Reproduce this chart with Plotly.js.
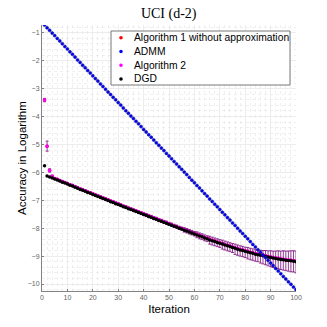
<!DOCTYPE html>
<html>
<head>
<meta charset="utf-8">
<script src="https://cdn.plot.ly/plotly-3.0.1.min.js"></script>
<style>
  html, body {margin:0; padding:0; background:white;}
  #graph {width:327px; height:327px;}
</style>
</head>
<body>
<div id="graph"></div>
<script>
// iterations 1..100
var iters = []
for (i = 1; i <= 100; i++) { iters.push(i) }

// ADMM (blue)
var admm = [-0.72,-0.82,-0.91,-1.01,-1.10,-1.20,-1.29,-1.39,-1.49,-1.58,
  -1.68,-1.77,-1.87,-1.97,-2.06,-2.16,-2.25,-2.35,-2.44,-2.54,
  -2.64,-2.73,-2.83,-2.92,-3.02,-3.12,-3.21,-3.31,-3.40,-3.50,
  -3.59,-3.69,-3.79,-3.88,-3.98,-4.07,-4.17,-4.26,-4.36,-4.46,
  -4.55,-4.65,-4.74,-4.84,-4.94,-5.03,-5.13,-5.22,-5.32,-5.41,
  -5.51,-5.61,-5.70,-5.80,-5.89,-5.99,-6.08,-6.18,-6.28,-6.37,
  -6.47,-6.56,-6.66,-6.76,-6.85,-6.95,-7.04,-7.14,-7.23,-7.33,
  -7.43,-7.52,-7.62,-7.71,-7.81,-7.90,-8.00,-8.10,-8.19,-8.29,
  -8.38,-8.48,-8.58,-8.67,-8.77,-8.86,-8.96,-9.05,-9.15,-9.25,
  -9.34,-9.44,-9.53,-9.63,-9.73,-9.82,-9.92,-10.01,-10.11,-10.20]

// DGD (black)
var dgd = [-5.76,-6.13,-6.17,-6.20,-6.24,-6.27,-6.31,-6.35,-6.38,-6.42,
  -6.46,-6.49,-6.53,-6.57,-6.61,-6.64,-6.68,-6.72,-6.75,-6.79,
  -6.83,-6.86,-6.90,-6.94,-6.97,-7.01,-7.05,-7.08,-7.12,-7.15,
  -7.19,-7.23,-7.26,-7.30,-7.33,-7.37,-7.40,-7.44,-7.47,-7.51,
  -7.54,-7.58,-7.61,-7.65,-7.68,-7.72,-7.75,-7.79,-7.82,-7.86,
  -7.89,-7.93,-7.96,-8.00,-8.03,-8.07,-8.10,-8.14,-8.17,-8.21,
  -8.24,-8.28,-8.31,-8.35,-8.38,-8.42,-8.45,-8.48,-8.51,-8.54,
  -8.57,-8.60,-8.63,-8.66,-8.69,-8.72,-8.75,-8.78,-8.80,-8.83,
  -8.85,-8.88,-8.90,-8.93,-8.95,-8.97,-8.99,-9.01,-9.03,-9.05,
  -9.07,-9.09,-9.10,-9.12,-9.13,-9.15,-9.16,-9.17,-9.18,-9.20]

// Algorithm 2 (magenta) with error bars
var alg2 = [-3.41,-5.06,-5.93,-6.14,-6.22,-6.25,-6.29,-6.33,-6.36,-6.40,
  -6.44,-6.47,-6.51,-6.55,-6.59,-6.62,-6.66,-6.70,-6.73,-6.77,
  -6.81,-6.84,-6.88,-6.92,-6.95,-6.99,-7.03,-7.06,-7.10,-7.13,
  -7.17,-7.21,-7.24,-7.28,-7.31,-7.35,-7.38,-7.42,-7.45,-7.49,
  -7.52,-7.56,-7.59,-7.63,-7.66,-7.70,-7.73,-7.77,-7.80,-7.84,
  -7.87,-7.91,-7.94,-7.98,-8.01,-8.05,-8.08,-8.12,-8.15,-8.19,
  -8.22,-8.26,-8.29,-8.33,-8.36,-8.40,-8.43,-8.46,-8.49,-8.52,
  -8.55,-8.58,-8.61,-8.64,-8.67,-8.70,-8.73,-8.76,-8.78,-8.81,
  -8.83,-8.86,-8.88,-8.91,-8.93,-8.95,-8.97,-8.99,-9.01,-9.03,
  -9.05,-9.07,-9.08,-9.10,-9.11,-9.13,-9.14,-9.15,-9.16,-9.18]

var errUp = [0.06,0.18,0.06,0.04,0.03,0.03,0.03,0.03,0.03,0.03,
  0.03,0.03,0.03,0.03,0.03,0.03,0.03,0.03,0.03,0.03,
  0.04,0.04,0.04,0.04,0.04,0.04,0.04,0.04,0.04,0.04,
  0.04,0.04,0.04,0.04,0.04,0.04,0.04,0.04,0.04,0.04,
  0.05,0.05,0.05,0.05,0.05,0.05,0.05,0.05,0.05,0.05,
  0.05,0.05,0.05,0.05,0.05,0.07,0.07,0.07,0.07,0.07,
  0.09,0.09,0.09,0.09,0.09,0.11,0.11,0.11,0.11,0.11,
  0.12,0.12,0.12,0.12,0.12,0.13,0.13,0.13,0.13,0.13,
  0.14,0.14,0.14,0.14,0.14,0.16,0.17,0.19,0.20,0.22,
  0.23,0.25,0.27,0.28,0.30,0.31,0.32,0.34,0.35,0.36]

var errDown = [0.06,0.18,0.06,0.04,0.03,0.03,0.03,0.03,0.03,0.03,
  0.03,0.03,0.03,0.03,0.03,0.03,0.03,0.03,0.03,0.03,
  0.04,0.04,0.04,0.04,0.04,0.04,0.04,0.04,0.04,0.04,
  0.04,0.04,0.04,0.04,0.04,0.04,0.04,0.04,0.04,0.04,
  0.06,0.06,0.06,0.06,0.06,0.06,0.06,0.06,0.06,0.06,
  0.06,0.06,0.06,0.06,0.06,0.09,0.09,0.09,0.09,0.09,
  0.12,0.12,0.12,0.12,0.12,0.17,0.17,0.17,0.17,0.17,
  0.20,0.20,0.20,0.20,0.20,0.24,0.24,0.24,0.24,0.24,
  0.27,0.27,0.27,0.27,0.27,0.30,0.31,0.32,0.34,0.35,
  0.36,0.37,0.37,0.38,0.39,0.39,0.40,0.41,0.41,0.42]

// Algorithm 1 without approximation sits under Algorithm 2 (not visible)
var alg1 = alg2.slice()

var seriesNames = ['Algorithm 1 without approximation', 'ADMM', 'Algorithm 2', 'DGD']
var seriesColors = ['rgb(255,0,0)', 'rgb(0,0,255)', 'rgb(255,0,255)', 'rgb(0,0,0)']

var font = 'Liberation Sans, Arial, sans-serif'

var traces = [
  {
    x: iters, y: alg1, name: seriesNames[0], mode: 'markers',
    marker: {color: seriesColors[0], size: 3.5}
  },
  {
    x: iters, y: alg2, name: seriesNames[2], mode: 'markers',
    marker: {color: seriesColors[2], size: 3.5},
    error_y: {type: 'data', symmetric: false, array: errUp, arrayminus: errDown,
      color: 'rgb(120,10,120)', thickness: 0.8, width: 1.5}
  },
  {
    x: iters, y: dgd, name: seriesNames[3], mode: 'markers',
    marker: {color: seriesColors[3], size: 3.5}
  },
  {
    x: iters, y: admm, name: seriesNames[1], mode: 'markers',
    marker: {color: seriesColors[1], size: 3, line: {color: 'rgb(20,20,150)', width: 0.6}}
  }
]

// hand-made legend box (MATLAB style, tight rows)
var legX0 = 0.2717, legX1 = 0.9764, legY0 = 0.7744, legY1 = 0.9774
var rowY = [0.9523, 0.9004, 0.8485, 0.797]
var shapes = [{
  type: 'rect', xref: 'paper', yref: 'paper', x0: legX0, x1: legX1, y0: legY0, y1: legY1,
  line: {color: 'rgb(120,120,120)', width: 1}, fillcolor: 'white', layer: 'above'
}]
var annotations = [{
  text: 'Accuracy in Logarithm', xref: 'paper', yref: 'paper', x: -0.079, y: 0.5,
  textangle: -90, showarrow: false, xanchor: 'center', yanchor: 'middle',
  font: {family: font, size: 11.5, color: 'black'}
}]
for (k = 0; k < seriesNames.length; k++) {
  shapes.push({
    type: 'circle', xref: 'paper', yref: 'paper', xsizemode: 'pixel', ysizemode: 'pixel',
    xanchor: 0.311, yanchor: rowY[k], x0: -1.8, x1: 1.8, y0: -1.8, y1: 1.8,
    fillcolor: seriesColors[k], line: {width: 0}, layer: 'above'
  })
  annotations.push({
    text: seriesNames[k], xref: 'paper', yref: 'paper', x: 0.3543, y: rowY[k],
    xanchor: 'left', yanchor: 'middle', showarrow: false,
    font: {family: font, size: 10.3, color: 'black'}
  })
}

var layout = {
  width: 327, height: 327,
  margin: {l: 42, r: 31, t: 25, b: 36, pad: 0},
  paper_bgcolor: 'white', plot_bgcolor: 'white',
  title: {
    text: 'UCI (d-2)',
    font: {family: 'Liberation Serif, Times New Roman, serif', size: 14, color: 'black'},
    x: 0.516, xanchor: 'center', y: 0.96, yanchor: 'middle', yref: 'container'
  },
  showlegend: false,
  shapes: shapes,
  annotations: annotations,
  xaxis: {
    range: [0, 100], dtick: 10, tick0: 0,
    showline: true, linecolor: 'rgb(130,130,130)', linewidth: 1,
    ticks: 'inside', ticklen: 2, tickcolor: 'rgb(130,130,130)',
    tickfont: {family: font, size: 7, color: 'rgb(100,100,100)'},
    showgrid: true, gridcolor: 'rgb(225,225,225)', gridwidth: 0.6,
    minor: {dtick: 2, showgrid: true, gridcolor: 'rgb(228,228,228)', griddash: 'dot', gridwidth: 0.6},
    zeroline: false, mirror: false,
    title: {text: 'Iteration', font: {family: font, size: 11.5, color: 'black'}, standoff: 4},
    automargin: false
  },
  yaxis: {
    range: [-10.25, -0.72], dtick: 1, tick0: 0,
    showline: true, linecolor: 'rgb(130,130,130)', linewidth: 1,
    ticks: 'inside', ticklen: 2, tickcolor: 'rgb(130,130,130)',
    tickfont: {family: font, size: 7, color: 'rgb(100,100,100)'},
    showgrid: true, gridcolor: 'rgb(225,225,225)', gridwidth: 0.6,
    minor: {dtick: 0.2, showgrid: true, gridcolor: 'rgb(228,228,228)', griddash: 'dot', gridwidth: 0.6},
    zeroline: false, mirror: false,
    automargin: false
  }
}

Plotly.newPlot('graph', traces, layout, {displayModeBar: false, staticPlot: true})
</script>
</body>
</html>
